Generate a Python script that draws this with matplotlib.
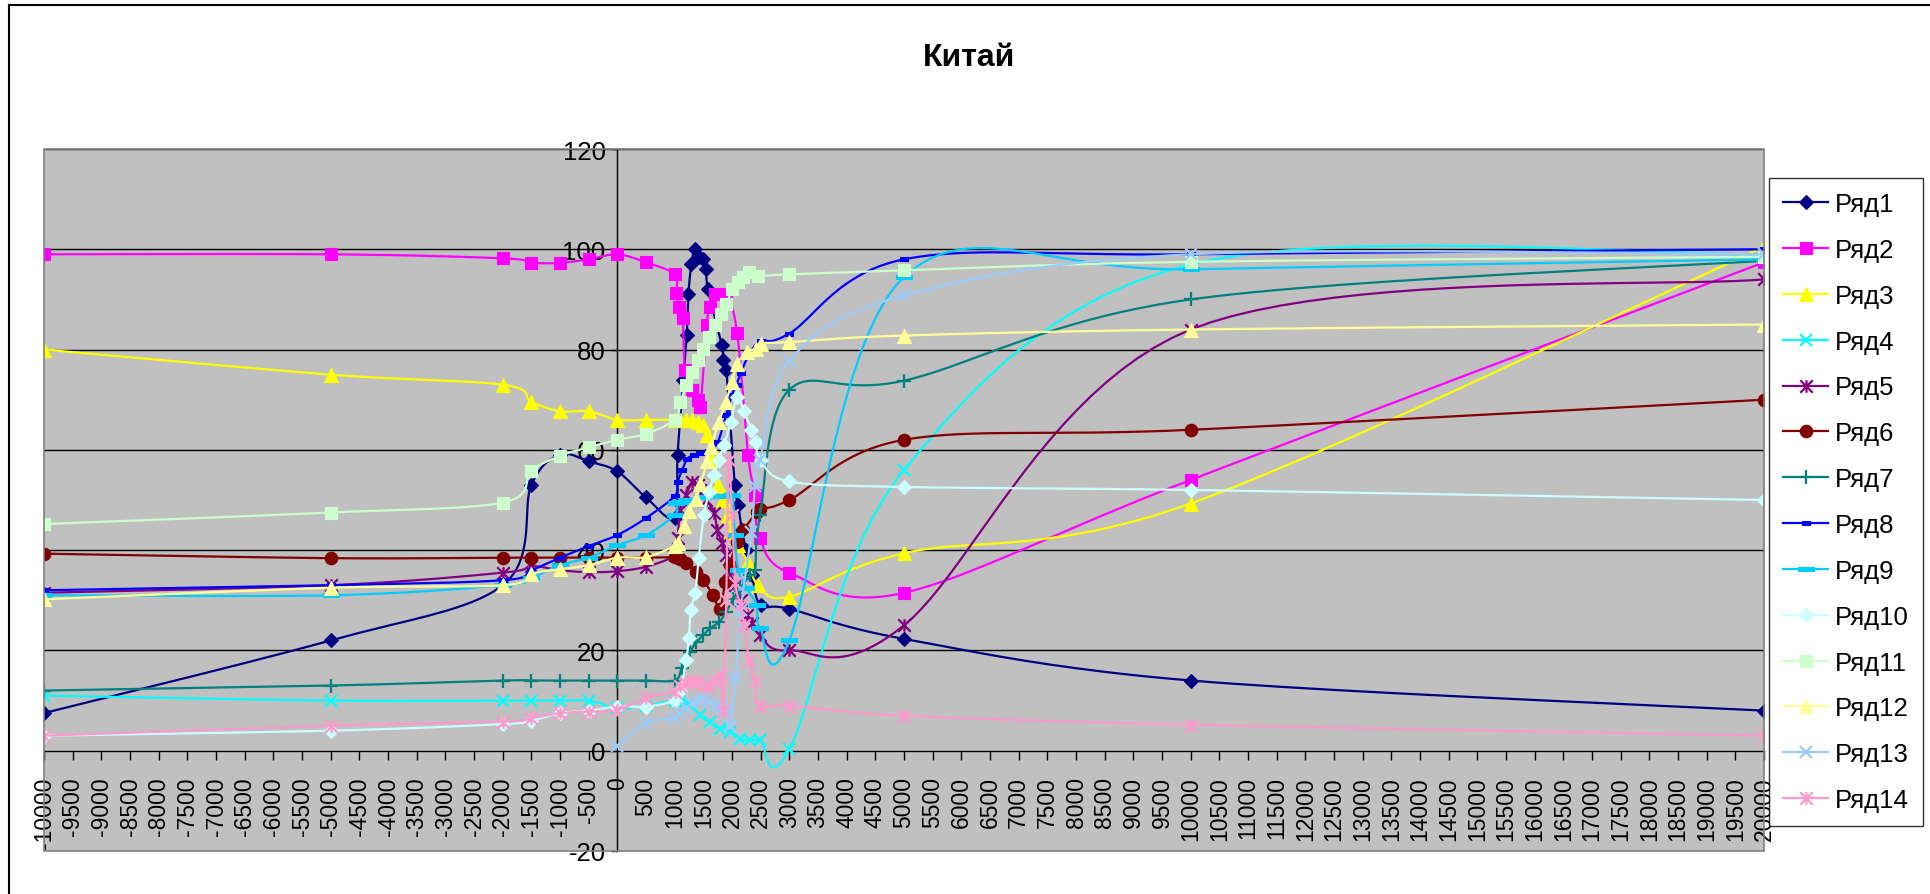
import numpy as np
import matplotlib
matplotlib.use("Agg")
import matplotlib.pyplot as plt
from matplotlib.lines import Line2D
from matplotlib.path import Path
from matplotlib.patches import Rectangle
from matplotlib import font_manager

# shared x positions (years) at the ends of every series
EARLY = [-10000, -5000, -2000, -1500, -1000, -500, 0, 500]
LATE = [3000, 5000, 10000, 20000]

r1_early = [7.5, 22, 33, 53, 59, 57.7, 55.7, 50.5]
r1_mid_x = [1000, 1050, 1150, 1210, 1240, 1290, 1350, 1420, 1490, 1550, 1580, 1820, 1850, 1900, 2050, 2110, 2170, 2250, 2350, 2500]
r1_mid_y = [46.5, 59, 74, 83, 91, 97, 100, 98.5, 98, 96, 92, 81, 78, 76, 53, 49, 44, 40, 35, 29]
r1_late = [28.3, 22.3, 14, 8]

r2_early = [99, 99, 98.2, 97.3, 97.3, 98, 99, 97.4]
r2_mid_x = [1000, 1030, 1080, 1140, 1180, 1300, 1410, 1450, 1560, 1610, 1700, 1900, 2090, 2280, 2400, 2480]
r2_mid_y = [95, 91.3, 88.5, 86.2, 76, 72, 70, 68.5, 85, 88.5, 91, 91, 83.3, 59, 51, 42.5]
r2_late = [35.5, 31.5, 54, 97.4]

r3_early = [80, 75, 73, 69.6, 67.7, 67.7, 66, 66]
r3_mid_x = [1000, 1100, 1200, 1300, 1400, 1500, 1570, 1650, 1750, 1850, 1930, 1990, 2100, 2280, 2460]
r3_mid_y = [66, 66, 66, 66, 65.5, 65, 63, 58, 53, 50, 47, 43.6, 41, 37.6, 33]
r3_late = [30.7, 39.4, 49.3, 100.5]

r4_early = [11, 10, 10, 10, 10, 10, 8.5, 9]
r4_mid_x = [1000, 1100, 1270, 1440, 1610, 1790, 1960, 2140, 2310, 2490]
r4_mid_y = [10, 9.5, 9.1, 7.1, 5.8, 4.4, 3.8, 2.4, 2.1, 2.1]
r4_late = [0.3, 56, 97, 99]

r5_early = [31.5, 33, 35.5, 36.8, 36, 35.6, 35.8, 36.7]
r5_mid_x = [1000, 1050, 1100, 1200, 1300, 1400, 1450, 1550, 1690, 1740, 1830, 1890, 1950, 2050, 2150, 2270, 2350, 2490]
r5_mid_y = [39, 42.5, 48, 51, 53.5, 53, 52, 50, 47.5, 44, 41.5, 39, 36, 33, 30, 27, 25.5, 23]
r5_late = [20, 25, 84, 94]

r6_early = [39.3, 38.4, 38.5, 38.5, 38.5, 38.5, 38.5, 38.5]
r6_mid_x = [1000, 1090, 1200, 1380, 1500, 1670, 1790, 1880, 1960, 2080, 2200, 2430, 2490]
r6_mid_y = [38.6, 38.3, 37.5, 35.7, 34, 31, 28.3, 33.7, 37, 41.6, 44, 47.6, 48.3]
r6_late = [50, 62, 64, 70]

r7_early = [12, 13, 14, 14, 14, 14, 14, 14]
r7_mid_x = [1000, 1120, 1270, 1380, 1500, 1610, 1770, 1900, 2020, 2140, 2310, 2400, 2490]
r7_mid_y = [14, 16.4, 19.7, 21.7, 23, 24.4, 25.6, 27.7, 30.3, 32.3, 35, 36, 47]
r7_late = [72, 73.8, 90, 97.7]

r8_early = [32, 33, 34, 36, 38.5, 40.8, 43, 46.4]
r8_mid_x = [1000, 1050, 1130, 1220, 1340, 1450, 1600, 1750, 1900, 2000, 2080, 2150, 2300, 2500]
r8_mid_y = [50.8, 53.5, 56, 58.2, 59, 59.3, 59.8, 61.5, 67, 71, 73, 75.3, 79, 81.7]
r8_late = [83.2, 98, 99, 100]

r9_early = [31, 31, 33, 34.5, 37, 38.5, 41, 43]
r9_mid_x = [1000, 1030, 1100, 1200, 1500, 1800, 2000, 2050, 2110, 2250, 2430, 2490]
r9_mid_y = [47, 49.5, 49.6, 50, 50.5, 50.8, 51, 43, 36, 32.5, 29, 24.5]
r9_late = [22, 94.5, 96, 98]

r10_early = [3, 4, 5.3, 6, 7.5, 8, 8.8, 8.8]
r10_mid_x = [1000, 1100, 1200, 1250, 1280, 1360, 1420, 1510, 1600, 1690, 1770, 1860, 1980, 2090, 2210, 2330, 2410, 2500]
r10_mid_y = [10, 12, 18, 22.5, 28, 31.5, 38.5, 47, 51.5, 55, 58, 61, 65.5, 70.5, 67.7, 64, 61.6, 58]
r10_late = [53.7, 52.6, 52, 50]

r11_early = [45.2, 47.5, 49.5, 55.8, 58.8, 60.5, 62, 63.2]
r11_mid_x = [1000, 1100, 1200, 1300, 1400, 1500, 1600, 1700, 1800, 1900, 2000, 2100, 2200, 2300, 2450]
r11_mid_y = [66, 69.5, 73, 75.5, 78, 80.2, 82.5, 85, 87, 89, 92, 93.5, 94.5, 95.5, 94.7]
r11_late = [95, 95.8, 97.5, 98.5]

r12_early = [30.2, 32.5, 33, 35.3, 36.2, 37, 38.5, 38.6]
r12_mid_x = [1000, 1050, 1160, 1250, 1370, 1450, 1570, 1630, 1770, 1890, 2000, 2090, 2270, 2410, 2500]
r12_mid_y = [40.8, 41.5, 44.8, 47.8, 50.1, 53.1, 57.8, 60.5, 65.5, 69.5, 73.5, 77.2, 79.5, 80.2, 81.2]
r12_late = [81.5, 82.8, 84, 85]

# Ряд13 only starts at year 0
r13_x = [0, 500, 1000, 1100, 1200, 1300, 1400, 1500, 1600, 1700, 1800, 1900, 1960, 2060, 2150, 2340, 2400, 2490, 3000, 5000, 10000, 20000]
r13_y = [1, 5.5, 6.5, 7.5, 8.5, 9.5, 10, 10.5, 9.7, 9, 8.5, 8, 5, 14.5, 28, 43.6, 52.7, 58, 77.8, 90.8, 99, 99]

r14_early = [3, 5, 5.8, 6.5, 7.5, 7.8, 8.1, 10.5]
r14_mid_x = [1000, 1100, 1200, 1300, 1400, 1500, 1600, 1700, 1800, 1850, 1900, 1940, 2000, 2060, 2150, 2210, 2300, 2400, 2490]
r14_mid_y = [11.8, 13, 13.5, 14, 14, 13, 13, 14, 15, 8, 30, 58, 47, 33.5, 29, 25, 18, 14, 9]
r14_late = [9, 7, 5.2, 3]

names = ["Ряд%d" % i for i in range(1, 15)]
colors = ["#000080", "#FF00FF", "#FFFF00", "#00FFFF", "#800080", "#800000", "#008080",
          "#0000FF", "#00CCFF", "#CCFFFF", "#CCFFCC", "#FFFF99", "#99CCFF", "#FF99CC"]

x_ticks = list(range(-10000, 20001, 500))
y_ticks = list(range(-20, 121, 20))


def full(early, mid_x, mid_y, late):
    return EARLY + mid_x + LATE, early + mid_y + late


series = [
    full(r1_early, r1_mid_x, r1_mid_y, r1_late),
    full(r2_early, r2_mid_x, r2_mid_y, r2_late),
    full(r3_early, r3_mid_x, r3_mid_y, r3_late),
    full(r4_early, r4_mid_x, r4_mid_y, r4_late),
    full(r5_early, r5_mid_x, r5_mid_y, r5_late),
    full(r6_early, r6_mid_x, r6_mid_y, r6_late),
    full(r7_early, r7_mid_x, r7_mid_y, r7_late),
    full(r8_early, r8_mid_x, r8_mid_y, r8_late),
    full(r9_early, r9_mid_x, r9_mid_y, r9_late),
    full(r10_early, r10_mid_x, r10_mid_y, r10_late),
    full(r11_early, r11_mid_x, r11_mid_y, r11_late),
    full(r12_early, r12_mid_x, r12_mid_y, r12_late),
    (r13_x, r13_y),
    full(r14_early, r14_mid_x, r14_mid_y, r14_late),
]

# excel-like markers
star = Path([(-1, -1), (1, 1), (-1, 1), (1, -1), (0, -1), (0, 1)],
            [Path.MOVETO, Path.LINETO, Path.MOVETO, Path.LINETO, Path.MOVETO, Path.LINETO])
short_bar = Path([(-1, -0.55), (1, -0.55), (1, 0.55), (-1, 0.55), (-1, -0.55)],
                 [Path.MOVETO, Path.LINETO, Path.LINETO, Path.LINETO, Path.CLOSEPOLY])
long_bar = Path([(-1, -0.3), (1, -0.3), (1, 0.3), (-1, 0.3), (-1, -0.3)],
                [Path.MOVETO, Path.LINETO, Path.LINETO, Path.LINETO, Path.CLOSEPOLY])
markers = [("D", 7), ("s", 9), ("^", 9.5), ("x", 8), (star, 9), ("o", 9), ("+", 10),
           (short_bar, 5.5), (long_bar, 11), ("D", 7), ("s", 9), ("^", 9.5), ("x", 8), (star, 9)]


def pick_font(name, fallback):
    names_avail = {f.name for f in font_manager.fontManager.ttflist}
    return name if name in names_avail else fallback


arial = pick_font("Liberation Sans", "DejaVu Sans")
narrow = pick_font("Liberation Sans Narrow", arial)

# excel smoothed line: cubic bezier through points, computed in screen proportions
SX = 1720 / 30000
SY = 702 / 140


def smooth(xs, ys, n=24):
    p = np.column_stack([np.asarray(xs, float) * SX, np.asarray(ys, float) * SY])
    ext = np.vstack([p[0], p, p[-1]])
    t = np.linspace(0, 1, n)[:, None]
    out = []
    for i in range(len(p) - 1):
        p0, p1, p2, p3 = ext[i], ext[i + 1], ext[i + 2], ext[i + 3]
        c1 = p1 + (p2 - p0) / 6
        c2 = p2 - (p3 - p1) / 6
        seg = (1 - t) ** 3 * p1 + 3 * (1 - t) ** 2 * t * c1 + 3 * (1 - t) * t ** 2 * c2 + t ** 3 * p2
        out.append(seg if i == 0 else seg[1:])
    pts = np.vstack(out)
    return pts[:, 0] / SX, pts[:, 1] / SY


fig = plt.figure(figsize=(19.3, 8.95), dpi=100)
W, H = 1930, 895
ax = fig.add_axes([44 / W, 1 - 852 / H, 1720 / W, 702 / H])
ax.set_facecolor("#C0C0C0")
ax.set_xlim(-10000, 20000)
ax.set_ylim(-20, 120)

for sp in ["top", "right"]:
    ax.spines[sp].set_visible(False)
for sp in ["left", "bottom"]:
    ax.spines[sp].set_position(("data", 0))
    ax.spines[sp].set_color("black")
    ax.spines[sp].set_linewidth(1)
ax.add_patch(Rectangle((0, 0), 1, 1, transform=ax.transAxes, fill=False,
                       edgecolor="#808080", lw=1.2, clip_on=False, zorder=5))

ax.set_yticks(y_ticks)
ax.set_yticklabels([str(v) for v in y_ticks], family=narrow, fontsize=18.5)
ax.set_xticks(x_ticks)
ax.set_xticklabels([str(v) for v in x_ticks], rotation=90, family=arial, fontsize=16.5)
ax.tick_params(axis="x", direction="out", length=6.5, width=1, pad=12)
ax.tick_params(axis="y", direction="out", length=4.5, width=1, pad=4)
for v in y_ticks[2:]:
    ax.axhline(v, color="black", lw=1, zorder=1)

handles = []
for (xs, ys), name, col, (mk, ms) in zip(series, names, colors, markers):
    lx, ly = smooth(xs, ys)
    ax.plot(lx, ly, color=col, lw=1.6, zorder=3)
    thin = mk in ("x", "+") or mk is star
    ax.plot(xs, ys, ls="none", marker=mk, ms=ms, color=col, mfc=col, mec=col,
            mew=1.6 if thin else 0.8, zorder=3)
    handles.append(Line2D([], [], color=col, lw=1.6, marker=mk, ms=ms, mfc=col, mec=col,
                          mew=1.6 if thin else 0.8, label=name))

leg = fig.legend(handles=handles, loc="upper left", bbox_to_anchor=(1769 / W, 1 - 179 / H),
                 bbox_transform=fig.transFigure, frameon=True, fancybox=False,
                 prop={"family": arial, "size": 18.5}, handlelength=1.75, handletextpad=0.25,
                 labelspacing=0.85, borderpad=0.55, borderaxespad=0)
leg.get_frame().set_edgecolor("black")
leg.get_frame().set_linewidth(1)

fig.text(969 / W, 1 - 58 / H, "Китай", ha="center", va="center",
         family=narrow, fontsize=23, fontweight="bold")

# outer chart frame
fig.add_artist(Line2D([9 / W, 1], [1 - 6 / H, 1 - 6 / H], color="black", lw=1.5,
                      transform=fig.transFigure))
fig.add_artist(Line2D([9 / W, 9 / W], [0, 1 - 6 / H], color="black", lw=1.5,
                      transform=fig.transFigure))

fig.savefig("out.png", dpi=100)
